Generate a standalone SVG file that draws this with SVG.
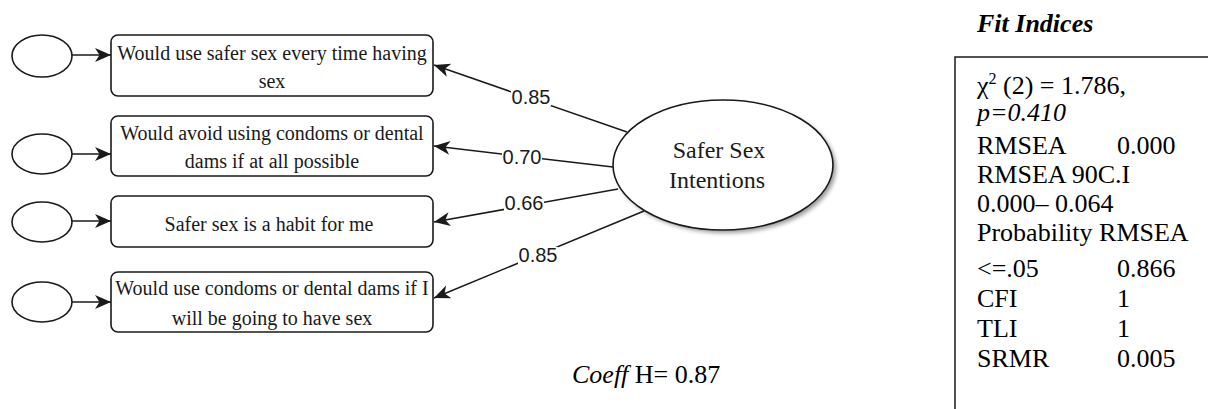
<svg xmlns="http://www.w3.org/2000/svg" width="1208" height="409" viewBox="0 0 1208 409">
  <style>
    .shape { fill: #ffffff; stroke: #1a1a1a; stroke-width: 1.6; }
    .item { font-family: "Liberation Serif", "Times New Roman", serif; font-size: 20px; fill: #1a1a1a; text-anchor: middle; }
    .latent { font-family: "Liberation Serif", "Times New Roman", serif; font-size: 24px; fill: #1a1a1a; text-anchor: middle; }
    .edge { fill: none; stroke: #1a1a1a; stroke-width: 1.5; }
    .load-bg { fill: #ffffff; }
    .load { font-family: "Liberation Sans", Arial, sans-serif; font-size: 20px; fill: #1a1a1a; text-anchor: middle; }
    .fit { font-family: "Liberation Serif", "Times New Roman", serif; font-size: 26px; fill: #000000; }
  </style>
  <defs>
    <marker id="arrow" markerUnits="userSpaceOnUse" markerWidth="20" markerHeight="16" refX="16" refY="7" orient="auto">
      <path d="M0,0 L16,7 L0,14 L4.5,7 Z" fill="#1a1a1a"/>
    </marker>
    <filter id="shadow" x="-10%" y="-10%" width="130%" height="130%">
      <feGaussianBlur stdDeviation="2"/>
    </filter>
  </defs>

  <rect width="1208" height="409" fill="#ffffff"/>

  <!-- error terms -->
  <g id="e1"><ellipse class="shape" cx="42" cy="56" rx="30" ry="21"/></g>
  <g id="e2"><ellipse class="shape" cx="42" cy="154" rx="30" ry="20"/></g>
  <g id="e3"><ellipse class="shape" cx="42" cy="222" rx="30" ry="20"/></g>
  <g id="e4"><ellipse class="shape" cx="42" cy="302" rx="30" ry="20"/></g>

  <!-- observed items -->
  <g id="item1">
    <rect class="shape" x="111" y="35" width="322" height="61" rx="7"/>
    <text class="item" x="272" y="60">Would use safer sex every time having</text>
    <text class="item" x="272" y="88">sex</text>
  </g>
  <g id="item2">
    <rect class="shape" x="111" y="116" width="322" height="60" rx="7"/>
    <text class="item" x="272" y="140">Would avoid using condoms or dental</text>
    <text class="item" x="272" y="168">dams if at all possible</text>
  </g>
  <g id="item3">
    <rect class="shape" x="111" y="196" width="322" height="51" rx="7"/>
    <text class="item" x="269" y="231" font-size="22">Safer sex is a habit for me</text>
  </g>
  <g id="item4">
    <rect class="shape" x="111" y="272" width="322" height="60" rx="7"/>
    <text class="item" x="272" y="295">Would use condoms or dental dams if I</text>
    <text class="item" x="272" y="325">will be going to have sex</text>
  </g>

  <!-- latent factor -->
  <g id="factor">
    <ellipse cx="726" cy="168" rx="110" ry="65" fill="#9a9a9a" filter="url(#shadow)"/>
    <ellipse class="shape" cx="723" cy="165" rx="110" ry="65"/>
    <text class="latent" x="719" y="158">Safer Sex</text>
    <text class="latent" x="717" y="188">Intentions</text>
  </g>

  <!-- connectors -->
  <g id="connectors">
    <line class="edge" x1="72" y1="55" x2="111" y2="55" marker-end="url(#arrow)"/>
    <line class="edge" x1="72" y1="154" x2="111" y2="154" marker-end="url(#arrow)"/>
    <line class="edge" x1="72" y1="221" x2="111" y2="221" marker-end="url(#arrow)"/>
    <line class="edge" x1="72" y1="302" x2="111" y2="302" marker-end="url(#arrow)"/>

    <line class="edge" x1="627" y1="132" x2="434" y2="65" marker-end="url(#arrow)"/>
    <line class="edge" x1="613" y1="167" x2="434" y2="146" marker-end="url(#arrow)"/>
    <line class="edge" x1="618" y1="189" x2="434" y2="222" marker-end="url(#arrow)"/>
    <line class="edge" x1="644" y1="211" x2="434" y2="298" marker-end="url(#arrow)"/>

    <!-- loading labels sit on a white patch that breaks the line -->
    <rect class="load-bg" x="511" y="89" width="40" height="17"/>
    <text class="load" x="531" y="104">0.85</text>
    <rect class="load-bg" x="502" y="149" width="40" height="17"/>
    <text class="load" x="522" y="164">0.70</text>
    <rect class="load-bg" x="504" y="195" width="40" height="17"/>
    <text class="load" x="524" y="210">0.66</text>
    <rect class="load-bg" x="518" y="247" width="40" height="17"/>
    <text class="load" x="538" y="262">0.85</text>
  </g>

  <!-- reliability -->
  <text class="fit" x="572" y="383"><tspan font-style="italic">Coeff</tspan> H= 0.87</text>

  <!-- fit index panel -->
  <g id="fit-indices">
    <text class="fit" x="977" y="32" font-weight="bold" font-style="italic">Fit Indices</text>
    <path d="M955,409 L955,57 L1208,57" fill="none" stroke="#1a1a1a" stroke-width="1.5"/>
    <text class="fit" x="977" y="94">χ<tspan font-size="16" dy="-10">2</tspan><tspan dy="10"> (2) = 1.786,</tspan></text>
    <text class="fit" x="977" y="121" font-style="italic">p=0.410</text>
    <text class="fit" x="977" y="154">RMSEA</text>
    <text class="fit" x="1117" y="154">0.000</text>
    <text class="fit" x="977" y="183">RMSEA 90C.I</text>
    <text class="fit" x="977" y="212">0.000– 0.064</text>
    <text class="fit" x="977" y="241">Probability RMSEA</text>
    <text class="fit" x="977" y="277">&lt;=.05</text>
    <text class="fit" x="1117" y="277">0.866</text>
    <text class="fit" x="977" y="307">CFI</text>
    <text class="fit" x="1117" y="307">1</text>
    <text class="fit" x="977" y="337">TLI</text>
    <text class="fit" x="1117" y="337">1</text>
    <text class="fit" x="977" y="367">SRMR</text>
    <text class="fit" x="1117" y="367">0.005</text>
  </g>
</svg>
